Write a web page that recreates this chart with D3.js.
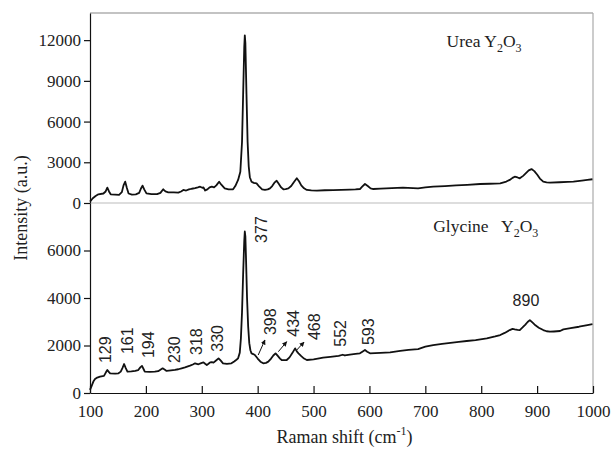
<!DOCTYPE html>
<html>
<head>
<meta charset="utf-8">
<script src="https://cdn.jsdelivr.net/npm/d3@7"></script>
<style>
  body { margin: 0; background: #fff; }
  svg { display: block; }
  .axis path, .axis line { stroke: #111; stroke-width: 1.2; }
  .peak-label { font-family: "Liberation Sans", Arial, sans-serif; font-size: 16px; fill: #222; }
</style>
</head>
<body>
<svg id="chart"></svg>
<script>
// Raman spectra: [shift cm^-1, intensity a.u.]
const ureaSpectrum = [
  [100,100],[105,350],[110,520],[115,640],[124,700],[128,850],[131,1130],[134,850],[137,640],[145,620],
  [152,600],[157,800],[160,1300],[163,1570],[166,1100],[169,700],[175,620],[182,640],[188,750],[191,1050],
  [194,1280],[197,1000],[201,710],[210,650],[220,660],[226,750],[231,1010],[235,850],[240,790],[250,780],
  [258,760],[263,850],[267,960],[272,920],[277,1000],[282,1050],[288,1100],[293,1150],[297,1200],[301,1120],
  [303,1150],[306,920],[310,1000],[314,1150],[318,1200],[322,1150],[326,1300],[331,1570],[335,1350],[341,1080],
  [348,1000],[356,1010],[360,1250],[365,1700],[369,2300],[372,4500],[374,8000],[376,11500],[377,12350],[378,11800],
  [380,8000],[382,4500],[384,2700],[386,1900],[389,1570],[393,1480],[398,1450],[403,1200],[408,1000],[413,960],
  [418,1000],[422,1080],[426,1250],[430,1500],[434,1640],[438,1400],[442,1150],[446,1010],[450,1030],[455,1080],
  [460,1250],[465,1550],[470,1820],[474,1600],[478,1300],[483,1080],[488,960],[496,930],[506,910],[520,940],
  [535,950],[550,970],[565,990],[575,1000],[583,1030],[587,1200],[592,1400],[597,1250],[602,1080],[607,1030],
  [620,1060],[640,1100],[660,1130],[687,1080],[700,1150],[714,1200],[735,1250],[755,1300],[775,1340],[798,1400],
  [815,1420],[834,1450],[845,1580],[851,1700],[856,1850],[860,1940],[865,1880],[869,1820],[875,2000],[880,2200],
  [885,2400],[890,2500],[895,2350],[900,2100],[905,1800],[911,1570],[917,1520],[923,1500],[940,1530],[955,1550],
  [965,1570],[980,1650],[990,1700],[999,1750]
];

const glycineSpectrum = [
  [100,130],[103,300],[106,480],[109,590],[113,650],[118,690],[125,720],[128,850],[131,970],[134,880],
  [136,830],[145,820],[151,830],[155,900],[158,1050],[161,1220],[164,1050],[167,900],[174,910],[181,930],
  [186,960],[190,1080],[193,1140],[196,1000],[198,900],[207,890],[216,900],[222,920],[226,980],[230,1040],
  [234,980],[237,930],[245,950],[252,970],[258,1000],[264,1040],[270,1080],[279,1150],[284,1200],[288,1250],
  [294,1210],[299,1260],[303,1290],[306,1230],[309,1180],[312,1230],[315,1290],[318,1300],[321,1280],[325,1360],
  [330,1460],[334,1360],[338,1250],[345,1230],[353,1250],[358,1330],[362,1400],[365,1460],[368,1700],[370,2300],
  [372,3400],[374,5000],[376,6400],[377,6800],[378,6600],[379,5800],[381,4000],[383,2800],[385,2100],[387,1800],
  [389,1670],[392,1640],[395,1600],[400,1450],[405,1320],[410,1250],[415,1270],[419,1320],[424,1450],[428,1580],
  [432,1670],[436,1560],[440,1450],[443,1390],[448,1380],[452,1390],[457,1500],[462,1680],[467,1880],[470,1750],
  [473,1670],[478,1550],[483,1450],[488,1390],[500,1420],[510,1460],[517,1490],[530,1520],[545,1560],[552,1610],
  [556,1580],[565,1620],[575,1650],[583,1670],[588,1750],[592,1810],[596,1740],[601,1670],[610,1680],[620,1690],
  [637,1710],[655,1770],[670,1820],[687,1850],[700,1950],[714,2020],[730,2070],[745,2110],[760,2150],[774,2190],
  [790,2230],[810,2300],[825,2380],[834,2440],[842,2530],[851,2650],[856,2700],[860,2680],[865,2660],[869,2650],
  [874,2760],[879,2880],[883,2990],[887,3070],[892,2960],[897,2850],[903,2750],[911,2650],[917,2600],[923,2580],
  [930,2590],[941,2610],[947,2680],[960,2730],[975,2790],[990,2860],[999,2900]
];

const xTicks = [100, 200, 300, 400, 500, 600, 700, 800, 900, 1000];
const ureaTicks = [0, 3000, 6000, 9000, 12000];
const glycineTicks = [0, 2000, 4000, 6000];

// peak labels on the glycine trace: text, anchor in data units (shift, intensity)
const peakLabels = ['129', '161', '194', '230', '318', '330', '377', '398', '434', '468', '552', '593'];
const peakLabelAt = [
  [128,1260],[166,1640],[204,1470],[251,1260],[290,1600],[328,1740],
  [407,6320],[422,2440],[463,2370],[501,2230],[548,1950],[598,2020]
];
const arrowsFrom = [[401,1600],[437,1740],[470,1810]];
const arrowsTo = [[413,2230],[452,2160],[483,2147]];

const serif = 'Liberation Serif, Times New Roman, serif';

const config = {
  width: 611, height: 456,
  margin: {top: 13, right: 18, bottom: 63, left: 90}
};

const svg = d3.select('#chart')
  .attr('width', config.width)
  .attr('height', config.height);

const innerW = config.width - config.margin.left - config.margin.right;
const innerH = config.height - config.margin.top - config.margin.bottom;
const panelH = innerH / 2;

const chart = svg.append('g')
  .attr('transform', `translate(${config.margin.left},${config.margin.top})`);

const xScale = d3.scaleLinear().domain([100, 1000]).range([0, innerW]);
const yTop = d3.scaleLinear().domain([0, 14000]).range([panelH, 0]);
const yBot = d3.scaleLinear().domain([0, 8000]).range([innerH, panelH]);

// frame: grey top/right border and panel separator
chart.append('line')
  .attr('x1', 0).attr('x2', innerW).attr('y1', 0).attr('y2', 0)
  .attr('stroke', '#888').attr('stroke-width', 1.2);
chart.append('line')
  .attr('x1', innerW).attr('x2', innerW).attr('y1', 0).attr('y2', innerH)
  .attr('stroke', '#aaa').attr('stroke-width', 1.2);
chart.append('line')
  .attr('x1', 0).attr('x2', innerW).attr('y1', panelH).attr('y2', panelH)
  .attr('stroke', '#bbb').attr('stroke-width', 1.2);

// axes
const styleTicks = g => g.attr('font-family', serif).attr('font-size', 17)
  .selectAll('text').attr('fill', '#222');

chart.append('g')
  .attr('class', 'axis')
  .attr('transform', `translate(0,${innerH})`)
  .call(d3.axisBottom(xScale).tickValues(xTicks).tickFormat(d3.format('d'))
    .tickSizeInner(-7).tickSizeOuter(0).tickPadding(12))
  .call(styleTicks);

chart.append('g')
  .attr('class', 'axis')
  .call(d3.axisLeft(yTop).tickValues(ureaTicks).tickFormat(d3.format('d'))
    .tickSizeInner(6).tickSizeOuter(0).tickPadding(3))
  .call(styleTicks);

chart.append('g')
  .attr('class', 'axis')
  .call(d3.axisLeft(yBot).tickValues(glycineTicks).tickFormat(d3.format('d'))
    .tickSizeInner(6).tickSizeOuter(0).tickPadding(3))
  .call(styleTicks);

// spectra
const lineTop = d3.line().x(d => xScale(d[0])).y(d => yTop(d[1]));
const lineBot = d3.line().x(d => xScale(d[0])).y(d => yBot(d[1]));

chart.append('path')
  .datum(ureaSpectrum)
  .attr('d', lineTop)
  .attr('fill', 'none').attr('stroke', '#111').attr('stroke-width', 1.8)
  .attr('stroke-linejoin', 'round');

chart.append('path')
  .datum(glycineSpectrum)
  .attr('d', lineBot)
  .attr('fill', 'none').attr('stroke', '#111').attr('stroke-width', 1.8)
  .attr('stroke-linejoin', 'round');

// panel titles
function addTitle(x, y, name, gap) {
  const t = chart.append('text')
    .attr('x', x).attr('y', y)
    .attr('font-family', serif)
    .attr('font-size', 17.5).attr('fill', '#222')
    .attr('xml:space', 'preserve');
  t.append('tspan').text(name + gap + 'Y');
  t.append('tspan').attr('font-size', 12).attr('dy', 5).text('2');
  t.append('tspan').attr('dy', -5).text('O');
  t.append('tspan').attr('font-size', 12).attr('dy', 5).text('3');
}
addTitle(xScale(738), 34, 'Urea', ' ');
addTitle(xScale(714), 219, 'Glycine', '   ');

// rotated peak labels
chart.selectAll('.peak-label')
  .data(peakLabels)
  .join('text')
  .attr('class', 'peak-label')
  .attr('transform', (d, i) => `translate(${xScale(peakLabelAt[i][0])},${yBot(peakLabelAt[i][1])}) rotate(-90)`)
  .attr('dy', '0.36em')
  .text(d => d);

chart.append('text')
  .attr('class', 'peak-label')
  .attr('font-size', 17)
  .attr('x', xScale(880)).attr('y', yBot(3660))
  .attr('text-anchor', 'middle')
  .text('890');

// arrows
svg.append('defs').append('marker')
  .attr('id', 'head')
  .attr('viewBox', '0 0 10 10')
  .attr('refX', 9).attr('refY', 5)
  .attr('markerWidth', 5).attr('markerHeight', 5)
  .attr('orient', 'auto')
  .append('path').attr('d', 'M0,0L10,5L0,10z').attr('fill', '#111');

chart.selectAll('.arrow')
  .data(arrowsFrom)
  .join('line')
  .attr('class', 'arrow')
  .attr('x1', d => xScale(d[0])).attr('y1', d => yBot(d[1]))
  .attr('x2', (d, i) => xScale(arrowsTo[i][0])).attr('y2', (d, i) => yBot(arrowsTo[i][1]))
  .attr('stroke', '#111').attr('stroke-width', 1)
  .attr('marker-end', 'url(#head)');

// axis titles
const xTitle = svg.append('text')
  .attr('x', config.margin.left + xScale(550) + 3)
  .attr('y', 443)
  .attr('text-anchor', 'middle')
  .attr('font-family', serif)
  .attr('font-size', 18).attr('fill', '#222');
xTitle.append('tspan').text('Raman shift (cm');
xTitle.append('tspan').attr('font-size', 12).attr('dy', -8).text('-1');
xTitle.append('tspan').attr('dy', 8).text(')');

svg.append('text')
  .attr('transform', `translate(27,${config.margin.top + panelH + 5}) rotate(-90)`)
  .attr('text-anchor', 'middle')
  .attr('font-family', serif)
  .attr('font-size', 18).attr('fill', '#222')
  .text('Intensity (a.u.)');
</script>
</body>
</html>
